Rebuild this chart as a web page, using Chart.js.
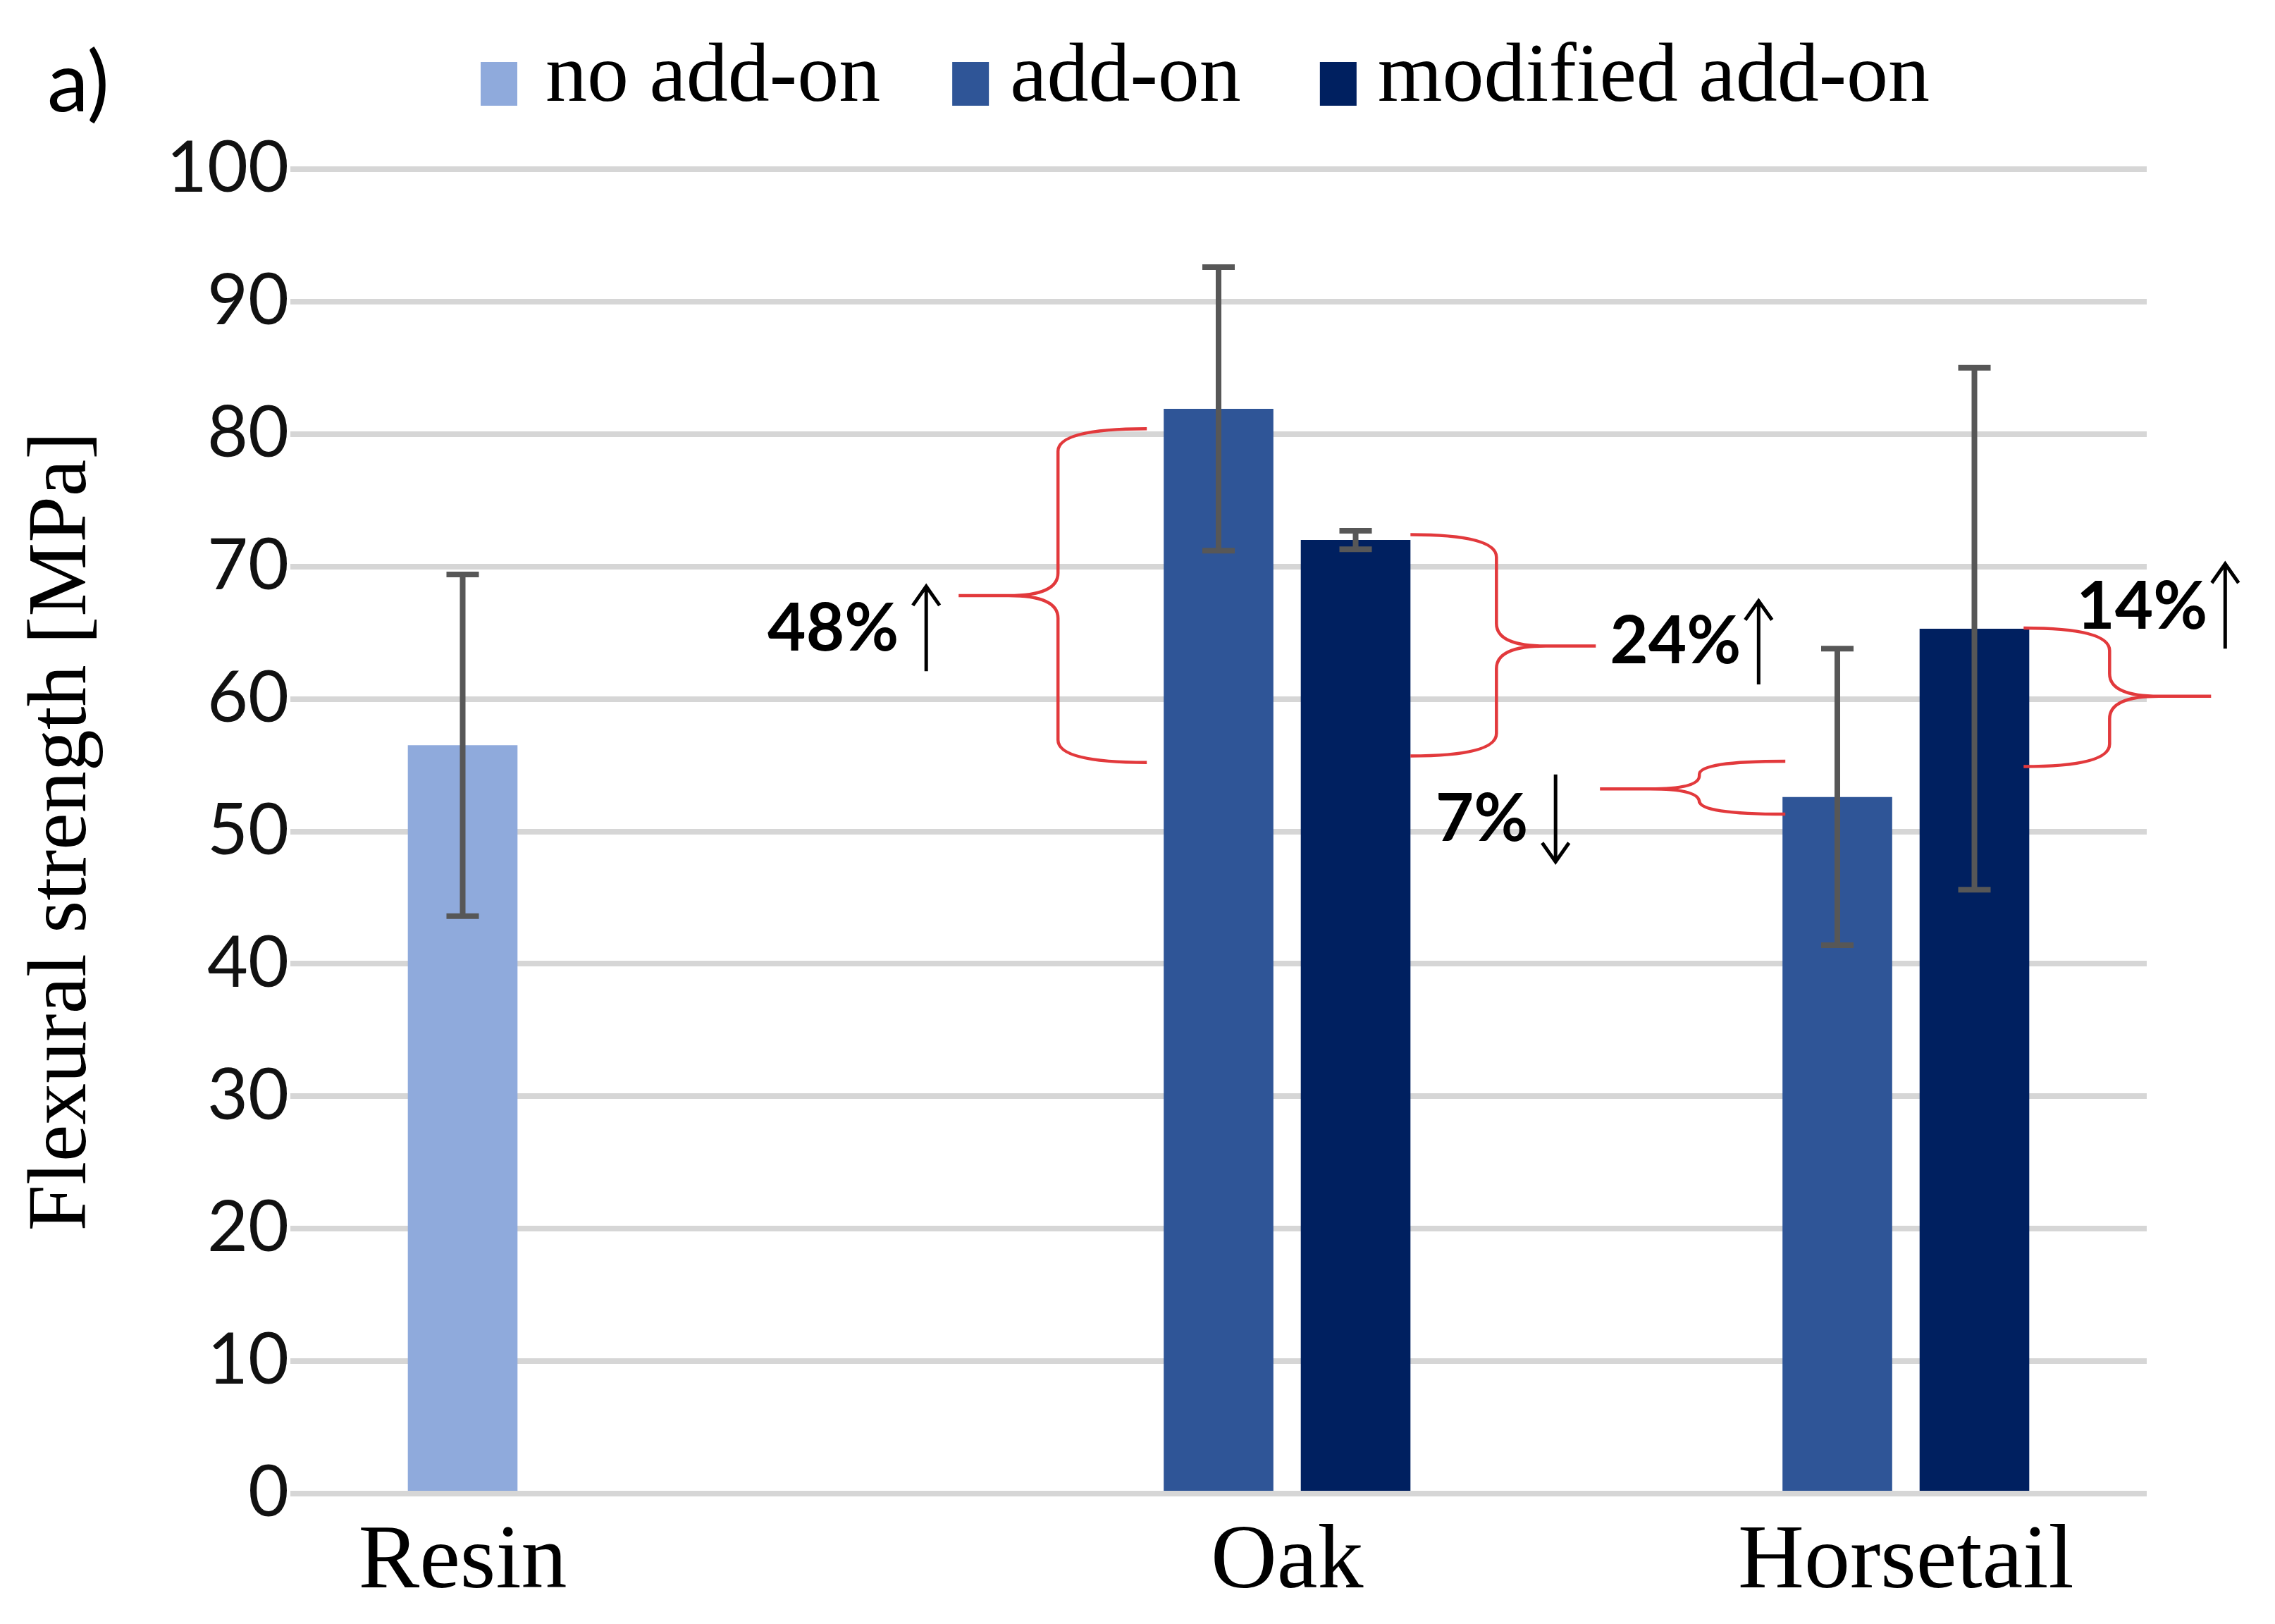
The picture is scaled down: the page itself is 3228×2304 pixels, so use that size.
<!DOCTYPE html>
<html>
<head>
<meta charset="utf-8">
<script src="https://cdn.jsdelivr.net/npm/chart.js@4.4.1/dist/chart.umd.min.js"></script>
<style>
  html, body { margin: 0; padding: 0; background: #ffffff; }
  #wrap { width: 3228px; height: 2304px; position: relative; }
  canvas { display: block; }
</style>
</head>
<body>
<div id="wrap"><canvas id="c" width="3228" height="2304"></canvas></div>
<script>
// ---------------- data ----------------
const categories = ['Resin', 'Oak', 'Horsetail'];
const seriesNames = ['no add-on', 'add-on', 'modified add-on'];
const noAddOn = [56.5, null, null];
const addOn = [null, 81.9, 52.6];
const modifiedAddOn = [null, 72.0, 65.3];
const noAddOnErr = [12.9, null, null];
const addOnErr = [null, 10.7, 11.2];
const modifiedAddOnErr = [null, 0.7, 19.7];
const yTicks = [0, 10, 20, 30, 40, 50, 60, 70, 80, 90, 100];
const panelLabel = 'a)';
const yTitle = 'Flexural strength [MPa]';

// annotation texts and the value span (MPa) each brace covers
const noteTexts = ['48%', '24%', '7%', '14%'];
const noteDirs = ['up', 'up', 'down', 'up'];
const braceTop = [80.4, 72.4, 55.3, 65.35];
const braceBottom = [55.2, 55.7, 51.3, 54.9];
const braceTip = [67.8, 64.0, 53.2, 60.2];
const noteBaseline = [63.65, 62.7, 49.3, 65.3];
const arrowFrom = [62.1, 61.1, 54.3, 63.8];
const arrowTo = [68.5, 67.4, 47.7, 70.2];

// ---------------- styling / layout (not data) ----------------
const colors = ['#8FAADC', '#2F5597', '#002060'];
const RED = '#E2393C';
const notePlacement = [
  { ds: 1, idx: 1, side: 'left',  arm: -24, spine: -150, tip: -291, text: -376, arrow: -337 },
  { ds: 2, idx: 1, side: 'right', arm: 0,   spine: 122,  tip: 263,  text: 283,  arrow: 494 },
  { ds: 1, idx: 2, side: 'left',  arm: 4,   spine: -118, tip: -259, text: -361, arrow: -322 },
  { ds: 2, idx: 2, side: 'right', arm: -8,  spine: 114,  tip: 258,  text: 67,   arrow: 278 }
];

const serif = '"Liberation Serif", "Times New Roman", serif';
const sans = 'Lato, "Open Sans", sans-serif';

const errorSets = [noAddOnErr, addOnErr, modifiedAddOnErr];

const overlayPlugin = {
  id: 'overlay',
  afterDatasetsDraw(chart) {
    const ctx = chart.ctx;
    const ys = chart.scales.y;
    ctx.save();
    ctx.strokeStyle = '#575757';
    ctx.lineWidth = 8;
    ctx.lineCap = 'butt';
    errorSets.forEach((errs, di) => {
      const meta = chart.getDatasetMeta(di);
      errs.forEach((e, i) => {
        const v = chart.data.datasets[di].data[i];
        if (v == null || e == null) return;
        const x = meta.data[i].x;
        const yt = ys.getPixelForValue(v + e);
        const yb = ys.getPixelForValue(v - e);
        ctx.beginPath();
        ctx.moveTo(x, yt); ctx.lineTo(x, yb);
        ctx.moveTo(x - 23, yt); ctx.lineTo(x + 23, yt);
        ctx.moveTo(x - 23, yb); ctx.lineTo(x + 23, yb);
        ctx.stroke();
      });
    });
    ctx.restore();
  },
  afterDraw(chart) {
    const ctx = chart.ctx;
    const ys = chart.scales.y;
    const area = chart.chartArea;
    ctx.save();

    // panel label
    ctx.fillStyle = '#000';
    ctx.font = '118px ' + sans;
    ctx.textAlign = 'left';
    ctx.textBaseline = 'alphabetic';
    ctx.fillText(panelLabel, 67, 158);

    // legend
    ctx.font = '118px ' + serif;
    const boxW = 52, boxH = 62, boxGap = 30, itemGap = 112;
    const widths = chart.data.datasets.map(d => ctx.measureText(d.label).width);
    const total = widths.reduce((a, w) => a + boxW + boxGap + w, 0) + itemGap * (widths.length - 1);
    let lx = (area.left + area.right) / 2 - 19 - total / 2;
    chart.data.datasets.forEach((d, i) => {
      ctx.fillStyle = d.backgroundColor;
      ctx.fillRect(lx, 88, boxW, boxH);
      ctx.fillStyle = '#000';
      ctx.fillText(d.label, lx + boxW + boxGap + (i === 0 ? 10 : 0), 143);
      lx += boxW + boxGap + widths[i] + itemGap;
    });

    // category labels, centred under the bars of each category
    ctx.font = '130px ' + serif;
    ctx.textAlign = 'center';
    categories.forEach((c, i) => {
      const xs = [];
      chart.data.datasets.forEach((d, di) => {
        if (d.data[i] != null) xs.push(chart.getDatasetMeta(di).data[i].x);
      });
      const cx = xs.reduce((a, b) => a + b, 0) / xs.length;
      ctx.fillText(c, cx, 2252);
    });

    // braces, percentages and arrows
    notePlacement.forEach((p, k) => {
      const bar = chart.getDatasetMeta(p.ds).data[p.idx];
      const edge = p.side === 'left' ? bar.x - bar.width / 2 : bar.x + bar.width / 2;
      const xa = edge + p.arm, xs = edge + p.spine, xt = edge + p.tip;
      const yT = ys.getPixelForValue(braceTop[k]);
      const yB = ys.getPixelForValue(braceBottom[k]);
      const yM = ys.getPixelForValue(braceTip[k]);
      const dir = p.side === 'left' ? -1 : 1;
      const r = Math.min(32, (yB - yT) / 4);
      ctx.strokeStyle = RED;
      ctx.lineWidth = 4.5;
      ctx.lineJoin = 'round';
      ctx.beginPath();
      ctx.moveTo(xa, yT);
      ctx.quadraticCurveTo(xs, yT, xs, yT + r);
      ctx.lineTo(xs, yM - r);
      ctx.quadraticCurveTo(xs, yM, xs + dir * 70, yM);
      ctx.lineTo(xt, yM);
      ctx.moveTo(xs + dir * 70, yM);
      ctx.quadraticCurveTo(xs, yM, xs, yM + r);
      ctx.lineTo(xs, yB - r);
      ctx.quadraticCurveTo(xs, yB, xa, yB);
      ctx.stroke();

      // text
      ctx.fillStyle = '#000';
      ctx.font = 'bold 94px ' + sans;
      ctx.textAlign = p.side === 'left' ? 'right' : 'left';
      ctx.fillText(noteTexts[k], edge + p.text, ys.getPixelForValue(noteBaseline[k]));

      // arrow
      const ax = edge + p.arrow;
      const y0 = ys.getPixelForValue(arrowFrom[k]);
      const y1 = ys.getPixelForValue(arrowTo[k]);
      const s = noteDirs[k] === 'up' ? 1 : -1;
      ctx.strokeStyle = '#000';
      ctx.lineWidth = 5;
      ctx.lineJoin = 'miter';
      ctx.beginPath();
      ctx.moveTo(ax, y0); ctx.lineTo(ax, y1);
      ctx.moveTo(ax - 19, y1 + s * 27); ctx.lineTo(ax, y1); ctx.lineTo(ax + 19, y1 + s * 27);
      ctx.stroke();
    });
    ctx.restore();
  }
};

function build() {
  new Chart(document.getElementById('c'), {
    type: 'bar',
    data: {
      labels: categories,
      datasets: [
        { label: seriesNames[0], data: noAddOn, backgroundColor: colors[0] },
        { label: seriesNames[1], data: addOn, backgroundColor: colors[1] },
        { label: seriesNames[2], data: modifiedAddOn, backgroundColor: colors[2] }
      ]
    },
    options: {
      responsive: false,
      animation: false,
      devicePixelRatio: 1,
      categoryPercentage: 0.6646,
      barPercentage: 0.80,
      layout: { padding: { left: 0, right: 182, top: 240, bottom: 185 } },
      plugins: {
        legend: { display: false },
        tooltip: { enabled: false },
        title: { display: false }
      },
      scales: {
        x: {
          offset: true,
          grid: { display: false, drawTicks: false },
          border: { display: false },
          ticks: { display: false },
          afterFit(scale) { scale.height = 0; }
        },
        y: {
          min: 0,
          max: 100,
          afterBuildTicks(scale) { scale.ticks = yTicks.map(v => ({ value: v })); },
          afterFit(scale) { scale.width = 412; },
          grid: { color: '#D6D6D6', lineWidth: 8, drawTicks: false, tickLength: 0 },
          border: { display: false },
          ticks: {
            padding: 2,
            color: '#111',
            font: { family: sans, size: 100 }
          },
          title: {
            display: true,
            text: yTitle,
            color: '#000',
            font: { family: serif, size: 118 },
            padding: { top: 19, bottom: 0 }
          }
        }
      }
    },
    plugins: [overlayPlugin]
  });
}

const fontLoads = [
  '100px Lato', 'bold 94px Lato', '118px "Liberation Serif"', '130px "Liberation Serif"'
].map(f => document.fonts.load(f).catch(() => null));
Promise.all(fontLoads).then(build, build);
</script>
</body>
</html>
